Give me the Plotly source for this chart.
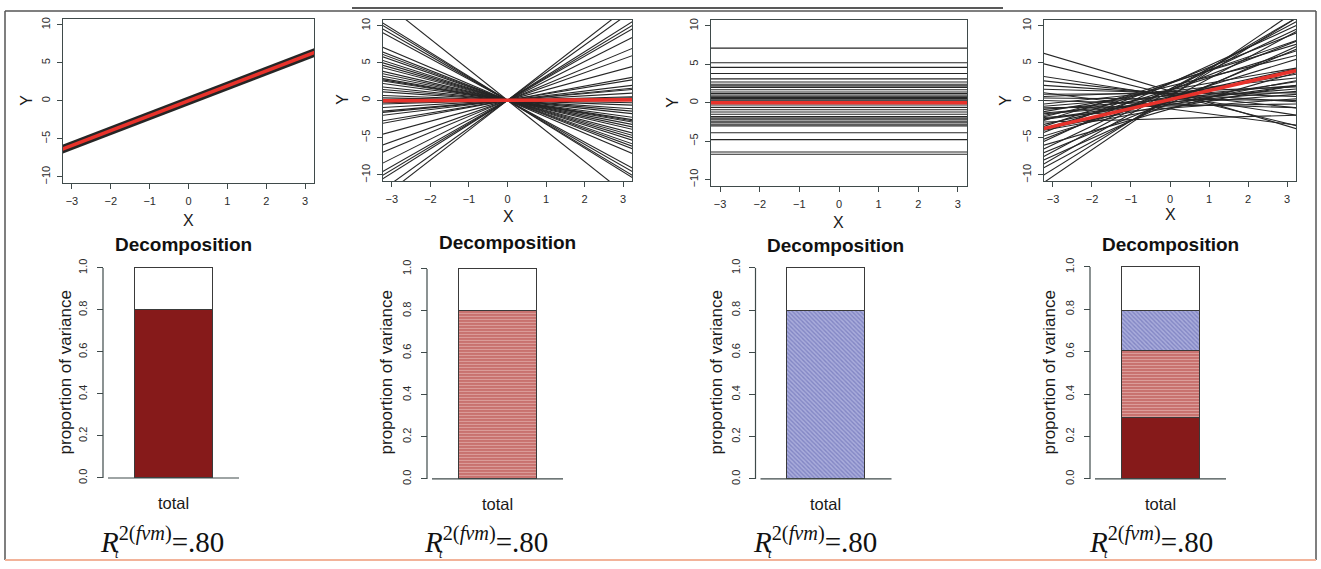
import plotly.graph_objects as go

W, H = 1321, 569

# ---------------- data ----------------
x_ticks = [-3, -2, -1, 0, 1, 2, 3]
y_ticks = [-10, -5, 0, 5, 10]
x_lim = [-3.23, 3.23]
y_lim = [-10.8, 10.8]

# Panel 1: fixed slope only (cluster lines coincide)
p1_intercepts = [-0.4, -0.25, -0.1, 0.1, 0.25, 0.4]
p1_slopes = [1.96, 1.96, 1.96, 1.96, 1.96, 1.96]
p1_mean = (0.0, 1.96)

# Panel 2: random slopes through the origin
p2_slopes = [4.0, 3.7, 3.25, 3.1, 2.95, 2.6, 2.15, 1.85, 1.4, 0.95, 0.85, 0.62,
             0.5, 0.45, 0.3, 0.15, 0.1,
             -0.1, -0.2, -0.35, -0.45, -0.55, -0.7, -0.8, -0.85, -0.9, -1.0,
             -1.1, -1.2, -1.35, -1.45, -1.55, -1.65, -1.8, -1.9, -2.0, -2.2,
             -2.8, -2.95, -3.1, -3.2, -4.1]
p2_intercepts = [0.0] * len(p2_slopes)
p2_mean = (0.0, 0.02)

# Panel 3: random intercepts, zero slope
p3_intercepts = [7.1, 5.2, 4.6, 3.8, 3.1, 2.7, 2.4, 2.2, 2.0, 1.7, 1.4, 1.2,
                 1.0, 0.85, 0.7, 0.55, 0.4, 0.25, 0.1, -0.3, -0.6, -0.9, -1.2,
                 -1.5, -1.8, -2.0, -2.2, -2.4, -2.6, -2.8, -3.0, -3.9, -4.8,
                 -6.4, -6.7]
p3_slopes = [0.0] * len(p3_intercepts)
p3_mean = (0.0, 0.0)

# Panel 4: random intercepts and slopes
p4_intercepts = [1.25, 0.75, 0.6, 0.8, 0.9, 1.0, 1.15, 0.15, 1.25, 0.6, 0.15,
                 1.4, -0.5, 0.75, 1.9, 0.0, 2.4, -2.45, 0.5, 2.25, 1.4, -1.0,
                 2.35, 0.35, 1.35, 2.25, -1.15, 1.5, -0.1, 1.5, -0.4, 1.25,
                 0.1, 0.5, 0.5, -0.5, -1.15, -0.75, -1.05, 0.9, -0.25,
                 -0.6, -0.3]
p4_slopes = [-1.56, -1.28, -0.8, -0.56, -0.34, -0.15, 0.2, -0.05, 0.54, 0.43,
             0.42, 0.9, 0.4, 0.85, 1.27, 0.77, 1.58, 0.14, 1.15, 1.78, 1.61,
             0.93, 2.06, 1.59, 2.03, 2.4, 1.5, 2.48, 2.14, 2.79, 2.35, 3.02,
             2.82, 3.25, 3.56, -0.15, -0.67, 0.08, 0.39, 0.03, 0.45,
             1.0, 0.7]
p4_mean = (0.1, 1.2)

# Variance decomposition per panel
bar_category = "total"
fixed_part = [0.80, 0.0, 0.0, 0.29]
slope_part = [0.0, 0.80, 0.0, 0.315]
intercept_part = [0.0, 0.0, 0.80, 0.19]
r2_values = [".80", ".80", ".80", ".80"]
prop_ticks = [0.0, 0.2, 0.4, 0.6, 0.8, 1.0]

# ---------------- layout helpers ----------------
def fx(px):
    return px / W


def fy(py):
    return 1 - py / H


def note(x, y, text, font, **kw):
    d = dict(x=x, y=y, xref="paper", yref="paper", text=text, showarrow=False,
             xanchor="center", yanchor="middle", font=font)
    d.update(kw)
    return d


AXIS_COL = "#3f4a4a"
SANS = "Liberation Sans, Arial"
SERIF = "Liberation Serif, Times New Roman"
TICK_FONT = dict(family=SANS, size=11, color="#2b2b2b")
LABEL_FONT = dict(family=SANS, size=16, color="#1a1a1a")

fig = go.Figure()
layout = dict(
    width=W, height=H, margin=dict(l=0, r=0, t=0, b=0),
    paper_bgcolor="white", plot_bgcolor="rgba(0,0,0,0)", showlegend=False,
    barmode="stack",
)
annotations = []
shapes = []

# line panels: (box left, right, top, bottom), X label pos, Y label pos
line_boxes = [
    ((63, 314, 12, 180), (188, 219), (27, 96)),
    ((383, 632, 13, 178), (508, 214), (343, 95)),
    ((711, 967, 13, 183), (838, 221), (673, 98)),
    ((1044, 1296, 13, 178), (1170, 212), (1006, 96)),
]
line_data = [
    (p1_intercepts, p1_slopes, p1_mean, 2.8),
    (p2_intercepts, p2_slopes, p2_mean, 1.1),
    (p3_intercepts, p3_slopes, p3_mean, 1.1),
    (p4_intercepts, p4_slopes, p4_mean, 1.1),
]

for i, ((box, xl, yl), (ints, slps, mean, lw)) in enumerate(zip(line_boxes, line_data)):
    n = i + 1
    xa = "x" if n == 1 else f"x{n}"
    ya = "y" if n == 1 else f"y{n}"
    xs, ys = [], []
    for b, m in zip(ints, slps):
        for xv in (-3.5, 3.5):
            xs.append(xv)
            ys.append(b + m * xv)
        xs.append(None)
        ys.append(None)
    fig.add_trace(go.Scatter(x=xs, y=ys, mode="lines", xaxis=xa, yaxis=ya,
                             line=dict(color="#262626", width=lw),
                             hoverinfo="skip"))
    mb, mm = mean
    fig.add_trace(go.Scatter(x=[-3.5, 3.5], y=[mb + mm * -3.5, mb + mm * 3.5],
                             mode="lines", xaxis=xa, yaxis=ya,
                             line=dict(color="#e8322b", width=3.6),
                             hoverinfo="skip"))
    l, r, t, btm = box
    common = dict(showline=True, mirror=True, linecolor=AXIS_COL, linewidth=1,
                  ticks="outside", ticklen=5, tickcolor=AXIS_COL,
                  showgrid=False, zeroline=False, tickfont=TICK_FONT,
                  fixedrange=True)
    layout["xaxis" if n == 1 else f"xaxis{n}"] = dict(
        domain=[fx(l), fx(r)], range=x_lim, anchor=ya,
        tickvals=x_ticks, ticklabelstandoff=3, **common)
    layout["yaxis" if n == 1 else f"yaxis{n}"] = dict(
        domain=[fy(btm), fy(t)], range=y_lim, anchor=xa,
        tickvals=y_ticks, tickangle=-90, ticklabelstandoff=3, **common)
    annotations.append(note(fx(xl[0]), fy(xl[1]), "X", LABEL_FONT))
    annotations.append(note(fx(yl[0]), fy(yl[1]), "Y", LABEL_FONT, textangle=-90))

# bar panels: bar centre px, y-axis top/bottom px, title y, ylabel x, total y, R2 centre x
bar_panels = [
    (173, 267, 482, 243, 65, 508, 162),
    (497, 268, 483, 241, 386, 509, 486),
    (825.5, 267, 483, 244, 716, 509, 815),
    (1160, 266, 483, 243, 1049, 509, 1151),
]
PX_PER_UNIT = 78.0
LEFT_PAD, RIGHT_PAD = 70, 66
PAD_TOP = 2.0
BAR_LINE = dict(color="#3a3a3a", width=1)

seg_styles = [
    dict(color="#861a1a", line=BAR_LINE),
    dict(color="#c8726f", line=BAR_LINE,
         pattern=dict(shape="-", bgcolor="#c8726f", fgcolor="#f4d2d0",
                      size=3, solidity=0.3)),
    dict(color="#a3a6d6", line=BAR_LINE,
         pattern=dict(shape="\\", bgcolor="#a9acdb", fgcolor="#5b60ad",
                      size=3, solidity=0.45)),
]

for k, (cx, ytop, ybot, ty, lx, tot_y, rcx) in enumerate(bar_panels):
    n = k + 5
    xa, ya = f"x{n}", f"y{n}"
    parts = [fixed_part[k], slope_part[k], intercept_part[k]]
    for val, style in zip(parts, seg_styles):
        if val > 0:
            fig.add_trace(go.Bar(x=[0], y=[val], width=1, xaxis=xa, yaxis=ya,
                                 marker=style, hoverinfo="skip"))
    rest = 1 - sum(parts)
    fig.add_trace(go.Bar(x=[0], y=[rest], width=1, xaxis=xa, yaxis=ya,
                         marker=dict(color="white", line=BAR_LINE),
                         hoverinfo="skip"))
    left_px, right_px = cx - LEFT_PAD, cx + RIGHT_PAD
    span = ybot - ytop
    layout[f"xaxis{n}"] = dict(domain=[fx(left_px), fx(right_px)],
                               range=[-LEFT_PAD / PX_PER_UNIT, RIGHT_PAD / PX_PER_UNIT],
                               anchor=ya, showline=False, showticklabels=False,
                               ticks="", showgrid=False, zeroline=False,
                               fixedrange=True)
    layout[f"yaxis{n}"] = dict(domain=[fy(ybot), fy(ytop - PAD_TOP)],
                               range=[0, 1 + PAD_TOP / span],
                               anchor="free", position=fx(left_px - 0.5),
                               showline=False, showgrid=False, zeroline=False,
                               ticks="outside", ticklen=6, tickcolor=AXIS_COL,
                               tickwidth=1.2,
                               tickvals=prop_ticks,
                               tickformat=".1f", tickangle=-90,
                               ticklabelstandoff=5, tickfont=TICK_FONT,
                               fixedrange=True)
    # y axis spine spanning 0..1 and baseline under the bar
    shapes.append(dict(type="line", xref="paper", yref="paper", layer="above",
                       x0=fx(left_px), x1=fx(left_px), y0=fy(ybot), y1=fy(ytop),
                       line=dict(color=AXIS_COL, width=1.2)))
    shapes.append(dict(type="line", xref="paper", yref="paper", layer="above",
                       x0=fx(left_px + 5), x1=fx(right_px), y0=fy(ybot), y1=fy(ybot),
                       line=dict(color=AXIS_COL, width=1.2)))
    annotations.append(note(fx(cx + 10), fy(ty), "<b>Decomposition</b>",
                            dict(family=SANS, size=19, color="#111")))
    annotations.append(note(fx(lx), fy(374), "proportion of variance",
                            dict(family=SANS, size=17, color="#1a1a1a"),
                            textangle=-90))
    annotations.append(note(0, fy(tot_y), bar_category,
                            dict(family=SANS, size=16.5, color="#1a1a1a"),
                            xref=xa))
    annotations.append(note(fx(rcx), fy(545),
                            "<i>R</i><sup>2(<i>fvm</i>)</sup>=" + r2_values[k],
                            dict(family=SERIF, size=29, color="#111")))
    annotations.append(note(fx(rcx - 45), fy(560), "<i>t</i>",
                            dict(family=SERIF, size=12, color="#111")))

# outer frame and heading underline
shapes += [
    dict(type="line", xref="paper", yref="paper", x0=fx(5), x1=fx(5),
         y0=fy(4), y1=fy(566), line=dict(color="#555", width=1.5)),
    dict(type="line", xref="paper", yref="paper", x0=fx(5), x1=fx(1316),
         y0=fy(4), y1=fy(4), line=dict(color="#555", width=1.5)),
    dict(type="line", xref="paper", yref="paper", x0=fx(1316), x1=fx(1316),
         y0=fy(4), y1=fy(566), line=dict(color="#555", width=1.5)),
    dict(type="line", xref="paper", yref="paper", x0=fx(5), x1=fx(1316),
         y0=fy(566), y1=fy(566), line=dict(color="#f2b39a", width=2)),
    dict(type="line", xref="paper", yref="paper", x0=fx(352), x1=fx(1003),
         y0=fy(1), y1=fy(1), line=dict(color="#222", width=1.5)),
]

layout["annotations"] = annotations
layout["shapes"] = shapes
fig.update_layout(**layout)
fig.write_html("out.html")
